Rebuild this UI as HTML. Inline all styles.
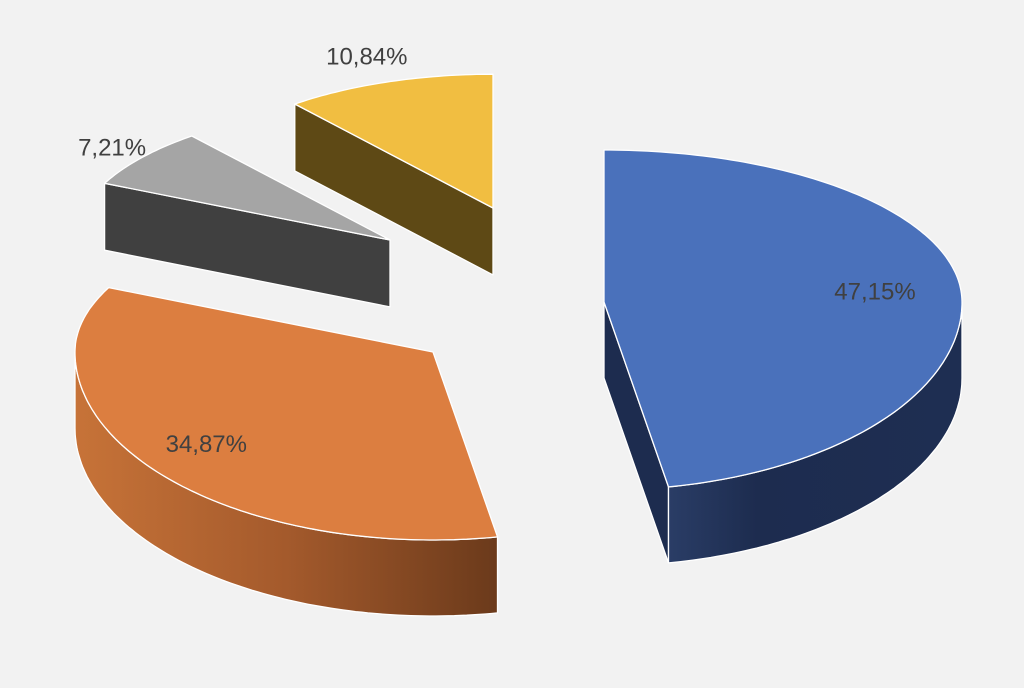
<!DOCTYPE html>
<html><head><meta charset="utf-8"><style>
html,body{margin:0;padding:0;background:#f2f2f2}
svg{display:block}
text{font-family:"Liberation Sans",sans-serif;font-size:24px;fill:#404040}
</style></head><body>
<svg id="chart" width="1024" height="688" viewBox="0 0 1024 688" xmlns="http://www.w3.org/2000/svg">
<defs>
<linearGradient id="gBlue" x1="0" x2="1" y1="0" y2="0"><stop offset="0" stop-color="#2a3d66"/><stop offset="0.3" stop-color="#1d2c4f"/><stop offset="1" stop-color="#1e2e52"/></linearGradient>
<linearGradient id="gOrange" x1="0" x2="1" y1="0" y2="0"><stop offset="0" stop-color="#c77338"/><stop offset="0.5" stop-color="#a45a2c"/><stop offset="1" stop-color="#6b3a1b"/></linearGradient>
</defs>
<rect width="1024" height="688" fill="#f2f2f2"/>
<g id="slices"></g>
</svg>
<script>
const categories = ["blue","orange","gray","yellow"];
const values = [47.15, 34.87, 7.21, 10.84];
const valueLabels = ["47,15%","34,87%","7,21%","10,84%"];

// layout (not data)
const apex = [[604,302],[433,352],[390,240],[493,208]];
const scale = [1,1,0.88,0.88];
const labelK = [0.76,0.8,1.12,1.2];
const topColor = ["#4a71bb","#dc7e40","#a5a5a5","#f1be41"];
const wallColor = ["#1d2c4f","#8a4a22","#404040","#5e4915"];
const outerFill = ["url(#gBlue)","url(#gOrange)","#404040","#5e4915"];
const drawOrder = [2,3,0,1];
const RX=358, RYT=152, RYB=188, DEPTH=76;

const total = values.reduce((a,b)=>a+b,0);
const start=[], end=[];
let acc=0;
values.forEach((v,i)=>{start[i]=acc/total*360; acc+=v; end[i]=acc/total*360;});

function pt(i,deg,dz,k){
  k = k===undefined?1:k;
  const t=deg*Math.PI/180, s=scale[i];
  const c=Math.cos(t);
  const ry = c>0?RYT:RYB;
  return [apex[i][0]+s*k*RX*Math.sin(t), apex[i][1]-s*k*c*ry + dz];
}
function arcPts(i,a0,a1,dz){
  const pts=[]; const n=Math.max(2,Math.ceil(Math.abs(a1-a0)));
  for(let j=0;j<=n;j++) pts.push(pt(i,a0+(a1-a0)*j/n,dz));
  return pts;
}
const g=document.getElementById('slices');
const NS="http://www.w3.org/2000/svg";
function poly(pts,fill,name){
  const p=document.createElementNS(NS,'path');
  p.setAttribute('d','M'+pts.map(q=>q[0].toFixed(1)+','+q[1].toFixed(1)).join('L')+'Z');
  p.setAttribute('fill',fill);
  p.setAttribute('stroke','#ffffff');
  p.setAttribute('stroke-width','1.3');
  p.setAttribute('stroke-linejoin','round');
  
  
  g.appendChild(p);
}
drawOrder.forEach(i=>{
  const d=DEPTH*scale[i], a0=start[i], a1=end[i], A=apex[i];
  const rad=x=>Math.sin(x*Math.PI/180);
  // start wall
  if(rad(a0)< -0.01){const p=pt(i,a0,0); poly([A,p,[p[0],p[1]+d],[A[0],A[1]+d]],wallColor[i],'slice-'+categories[i]+'-start-wall');}
  if(rad(a1)> 0.01){const p=pt(i,a1,0); poly([A,p,[p[0],p[1]+d],[A[0],A[1]+d]],wallColor[i],'slice-'+categories[i]+'-end-wall');}
  const o0=Math.max(a0,90), o1=Math.min(a1,270);
  if(o1>o0){
    const top=arcPts(i,o0,o1,0), bot=arcPts(i,o1,o0,d);
    poly(top.concat(bot),outerFill[i],'slice-'+categories[i]+'-outer-wall');
  }
  poly([A].concat(arcPts(i,a0,a1,0)),topColor[i],'slice-'+categories[i]+'-top');
});
values.forEach((v,i)=>{
  const mid=(start[i]+end[i])/2;
  const p=pt(i,mid,0,labelK[i]);
  const t=document.createElementNS(NS,'text');
  t.setAttribute('x',p[0].toFixed(1));
  t.setAttribute('y',(p[1]+8).toFixed(1));
  t.setAttribute('text-anchor','middle');
  t.textContent=valueLabels[i];
  
  
  g.appendChild(t);
});
</script>
</body></html>
